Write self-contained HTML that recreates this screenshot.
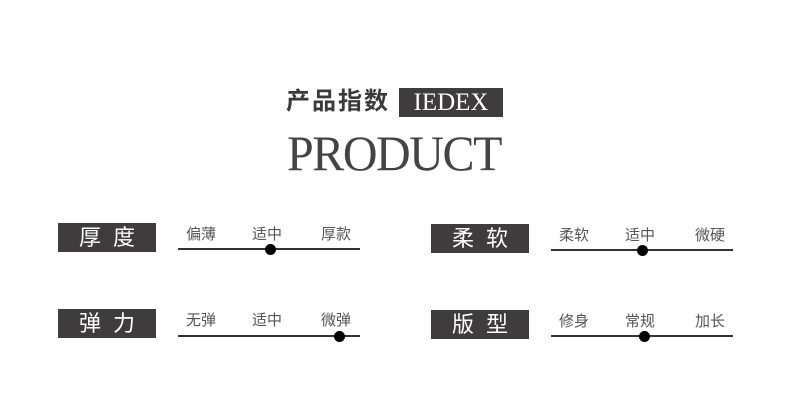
<!DOCTYPE html>
<html><head><meta charset="utf-8"><style>
body{margin:0;width:790px;height:410px;background:#fff;position:relative;overflow:hidden;font-family:"Liberation Sans","Noto Sans CJK SC",sans-serif}
.a{position:absolute}
.box{position:absolute;background:#3f3c3d;color:#fff;font-size:22px;text-align:center;line-height:29px;width:98px;height:29px;letter-spacing:12px;text-indent:12px}
.t{position:absolute;font-size:15px;color:#555;line-height:16px;white-space:nowrap}
.ln{position:absolute;height:2px;background:#333;width:182px}
.dot{position:absolute;width:11px;height:11px;border-radius:50%;background:#000}
</style></head><body>
<div class="a" style="left:286px;top:87px;font-size:24px;font-weight:bold;color:#3a3a3a;line-height:30px;letter-spacing:2px">产品指数</div>
<div class="a" style="left:399px;top:88px;width:104px;height:29px;background:#3f3c3d;color:#fff;font-family:'Liberation Serif',serif;font-size:25px;line-height:30px;text-align:center">IEDEX</div>
<div class="a" style="left:287px;top:127px;font-family:'Liberation Serif',serif;font-size:50px;color:#444;line-height:52px;letter-spacing:-1.5px;transform:scaleX(0.96);transform-origin:left">PRODUCT</div>

<div class="box" style="left:58px;top:223px">厚度</div>
<div class="t" style="left:186px;top:227px">偏薄</div><div class="t" style="left:252px;top:227px">适中</div><div class="t" style="left:321px;top:227px">厚款</div>
<div class="ln" style="left:178px;top:248px"></div><div class="dot" style="left:265px;top:244px"></div>

<div class="box" style="left:58px;top:309px">弹力</div>
<div class="t" style="left:186px;top:313px">无弹</div><div class="t" style="left:252px;top:313px">适中</div><div class="t" style="left:321px;top:313px">微弹</div>
<div class="ln" style="left:178px;top:335px"></div><div class="dot" style="left:334px;top:331px"></div>

<div class="box" style="left:431px;top:224px">柔软</div>
<div class="t" style="left:559px;top:228px">柔软</div><div class="t" style="left:625px;top:228px">适中</div><div class="t" style="left:695px;top:228px">微硬</div>
<div class="ln" style="left:551px;top:249px"></div><div class="dot" style="left:637px;top:245px"></div>

<div class="box" style="left:431px;top:310px">版型</div>
<div class="t" style="left:559px;top:314px">修身</div><div class="t" style="left:625px;top:314px">常规</div><div class="t" style="left:695px;top:314px">加长</div>
<div class="ln" style="left:551px;top:335px"></div><div class="dot" style="left:639px;top:331px"></div>
</body></html>
